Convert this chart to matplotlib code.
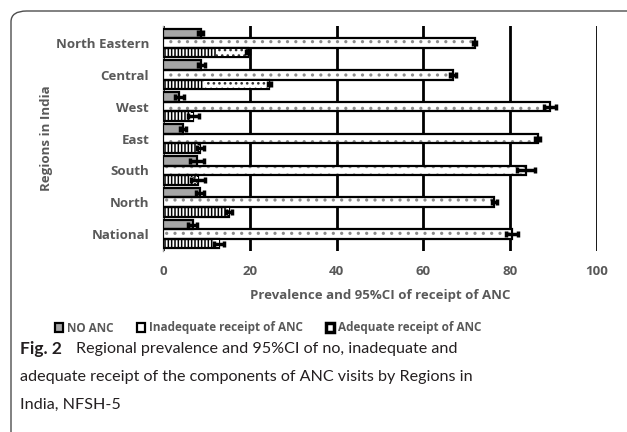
"""Regional prevalence and 95%CI of ANC receipt by region (Fig. 2)."""
import matplotlib
matplotlib.use("Agg")
import matplotlib.pyplot as plt
from matplotlib.patches import Patch, FancyBboxPatch
import numpy as np

regions = ["North Eastern", "Central", "West", "East", "South", "North", "National"]

no_anc = [8.7, 8.8, 3.8, 4.6, 7.8, 8.6, 6.8]
no_anc_err = [0.6, 0.8, 1.0, 0.7, 1.6, 0.9, 1.0]

inadequate = [71.8, 66.8, 89.2, 86.3, 83.6, 76.3, 80.5]
inadequate_err = [0.4, 0.7, 1.4, 0.5, 2.1, 0.6, 1.4]

adequate = [19.5, 24.5, 7.0, 8.6, 8.0, 15.3, 12.9]
adequate_err = [0.3, 0.4, 1.2, 0.8, 1.6, 0.7, 1.1]
adequate_lo = [12.1, 9.5, 6.0, 7.8, 6.2, 14.7, 11.6]

grey_txt = "#595959"
plt.rcParams["font.family"] = ["Open Sans", "DejaVu Sans"]
plt.rcParams["hatch.linewidth"] = 1.1

fig = plt.figure(figsize=(6.27, 4.32), dpi=100)
ax = fig.add_axes([163 / 627, 1 - 251 / 432, (597 - 163) / 627, 225 / 432])

y = np.arange(len(regions))
h = 0.3
lw = 1.6


def bars(ypos, vals, left=None, face="white", hatch=None, hcolor="black", z=3):
    # hatch drawn first with its own colour, outline drawn over it in black
    ax.barh(ypos, vals, height=h, left=left, color=face, edgecolor=hcolor,
            hatch=hatch, linewidth=0, zorder=z)
    ax.barh(ypos, vals, height=h, left=left, fill=False, edgecolor="black",
            linewidth=lw, zorder=z + 1)


# NO ANC
bars(y - h, no_anc, face="#a6a6a6")
ax.errorbar(no_anc, y - h, xerr=no_anc_err, fmt="none", ecolor="black",
            elinewidth=2.5, capsize=2.5, capthick=2.5, zorder=6)

# Inadequate receipt
bars(y, inadequate, face="white", hatch="..", hcolor="#8c8c8c")
ax.errorbar(inadequate, y, xerr=inadequate_err, fmt="none", ecolor="black",
            elinewidth=2.5, capsize=2.5, capthick=2.5, zorder=6)

# Adequate receipt: striped up to lower bound, dotted beyond it
bars(y + h, adequate, face="white", hatch="|" * 5, hcolor="black")
ci_w = np.array(adequate) - np.array(adequate_lo)
ax.barh(y + h, ci_w, left=adequate_lo, height=h * 0.7, color="white",
        edgecolor="#333333", hatch="...", linewidth=0, zorder=5)
ax.errorbar(adequate, y + h, xerr=adequate_err, fmt="none", ecolor="black",
            elinewidth=2.5, capsize=2.5, capthick=2.5, zorder=6)

ax.set_xlim(0, 100)
ax.set_ylim(len(regions) - 0.47, -0.53)
ax.set_xticks([0, 20, 40, 60, 80, 100])
ax.set_yticks(y)
ax.set_yticklabels(regions)
ax.xaxis.grid(True, color="black", linewidth=2, zorder=0)
ax.set_axisbelow(True)
for s in ["top", "right", "bottom"]:
    ax.spines[s].set_visible(False)
ax.spines["left"].set_color("#a0a0a0")
ax.spines["left"].set_linewidth(1)
ax.tick_params(length=0, labelsize=9.5, labelcolor=grey_txt, pad=10)
for t in ax.get_xticklabels() + ax.get_yticklabels():
    t.set_fontweight("bold")
ax.set_xlabel("Prevalence and 95%CI of receipt of ANC", fontsize=9.5,
              fontweight="bold", color=grey_txt, labelpad=8)
ax.set_ylabel("Regions in India", fontsize=9.5, fontweight="bold",
              color=grey_txt, labelpad=2)

handles = [
    Patch(facecolor="#a6a6a6", edgecolor="black", linewidth=1.6, label="NO ANC"),
    Patch(facecolor="white", edgecolor="black", linewidth=1.6,
          label="Inadequate receipt of ANC"),
    Patch(facecolor="white", edgecolor="black", linewidth=2.5, hatch="|",
          label="Adequate receipt of ANC"),
]
leg = fig.legend(handles=handles, loc="center", bbox_to_anchor=(268 / 627, 1 - 328 / 432),
                 ncol=3, frameon=False, handlelength=0.7, handleheight=0.7,
                 handletextpad=0.3, columnspacing=2.0,
                 prop={"weight": "bold", "size": 8.5})
for t in leg.get_texts():
    t.set_color(grey_txt)

# caption
cap = dict(fontsize=11.6, color="#231f20", va="center", ha="left",
           family=["Lato", "DejaVu Sans"])
fig.text(20 / 627, 1 - 349 / 432, "Fig. 2", fontweight="bold", fontsize=12.5,
         color="#231f20", va="center", ha="left", family=["Lato", "DejaVu Sans"])
fig.text(76 / 627, 1 - 349 / 432,
         "Regional prevalence and 95%CI of no, inadequate and", **cap)
fig.text(20 / 627, 1 - 377 / 432,
         "adequate receipt of the components of ANC visits by Regions in", **cap)
fig.text(20 / 627, 1 - 405 / 432, "India, NFSH-5", **cap)

# rounded frame, only top and left edges fall inside the image
frame = FancyBboxPatch((11 / 627, -0.2), 1.2, 1 - 11 / 432 + 0.2,
                       boxstyle="round,pad=0,rounding_size=0.025",
                       transform=fig.transFigure, fill=False,
                       edgecolor="#4d4d4d", linewidth=1, clip_on=False)
fig.patches.append(frame)

fig.savefig("out.png", dpi=100)
